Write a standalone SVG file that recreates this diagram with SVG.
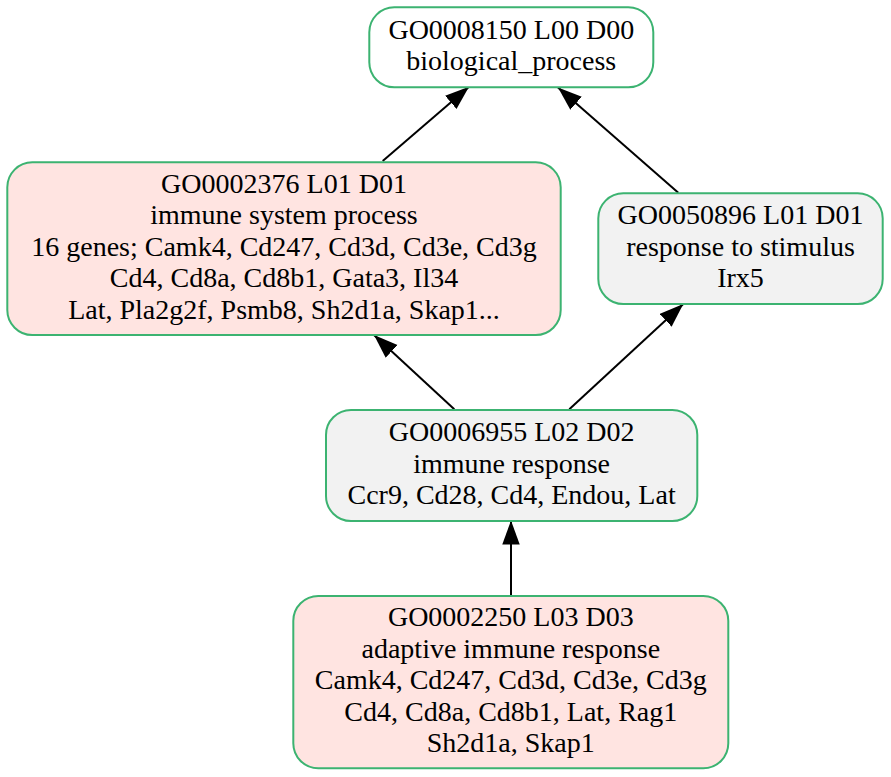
<svg xmlns="http://www.w3.org/2000/svg" width="891" height="777" viewBox="0 0 891 777">
<style>
.node rect{stroke:#3cb371;stroke-width:2}
.node text{font-family:"Liberation Serif","Times New Roman",serif;font-size:28px;text-anchor:middle;fill:#000}
.hit{fill:#ffe4e1}
.mid{fill:#f2f2f2}
.top{fill:#ffffff}
.edge{stroke:#000;stroke-width:2;fill:none}
</style>
<defs>
<marker id="ah" markerUnits="userSpaceOnUse" markerWidth="24" markerHeight="18" viewBox="0 0 22 16" refX="22" refY="8" orient="auto">
<path d="M0,0 L22,8 L0,16 Z" fill="#000"/>
</marker>
</defs>
<rect width="891" height="777" fill="#fff"/>
<g id="edges">
<path class="edge" d="M382.7,161 L469,86.7" marker-end="url(#ah)"/>
<path class="edge" d="M678.3,192.7 L558,87.5" marker-end="url(#ah)"/>
<path class="edge" d="M454.3,409.3 L374,335" marker-end="url(#ah)"/>
<path class="edge" d="M569.3,409.3 L683.3,304" marker-end="url(#ah)"/>
<path class="edge" d="M511,596 L511,520.5" marker-end="url(#ah)"/>
</g>
<g id="GO0008150" class="node">
<rect class="top" x="369.3" y="7.3" width="284" height="80" rx="25"/>
<text x="511.3" y="39">GO0008150 L00 D00</text>
<text x="511.3" y="70.3">biological_process</text>
</g>
<g id="GO0002376" class="node">
<rect class="hit" x="7.3" y="162.3" width="553.4" height="172.7" rx="25"/>
<text x="284" y="192.5">GO0002376 L01 D01</text>
<text x="284" y="224.1">immune system process</text>
<text x="284" y="255.7">16 genes; Camk4, Cd247, Cd3d, Cd3e, Cd3g</text>
<text x="284" y="287.3">Cd4, Cd8a, Cd8b1, Gata3, Il34</text>
<text x="284" y="318.9">Lat, Pla2g2f, Psmb8, Sh2d1a, Skap1...</text>
</g>
<g id="GO0050896" class="node">
<rect class="mid" x="598.3" y="193.3" width="284.4" height="110.7" rx="25"/>
<text x="740.5" y="224.1">GO0050896 L01 D01</text>
<text x="740.5" y="255.7">response to stimulus</text>
<text x="740.5" y="287.3">Irx5</text>
</g>
<g id="GO0006955" class="node">
<rect class="mid" x="326" y="410" width="371.3" height="111" rx="25"/>
<text x="511.6" y="440.9">GO0006955 L02 D02</text>
<text x="511.6" y="472.5">immune response</text>
<text x="511.6" y="504.1">Ccr9, Cd28, Cd4, Endou, Lat</text>
</g>
<g id="GO0002250" class="node">
<rect class="hit" x="293.3" y="596" width="435" height="172.3" rx="25"/>
<text x="510.8" y="626">GO0002250 L03 D03</text>
<text x="510.8" y="657.6">adaptive immune response</text>
<text x="510.8" y="689.2">Camk4, Cd247, Cd3d, Cd3e, Cd3g</text>
<text x="510.8" y="720.8">Cd4, Cd8a, Cd8b1, Lat, Rag1</text>
<text x="510.8" y="752.4">Sh2d1a, Skap1</text>
</g>
</svg>
